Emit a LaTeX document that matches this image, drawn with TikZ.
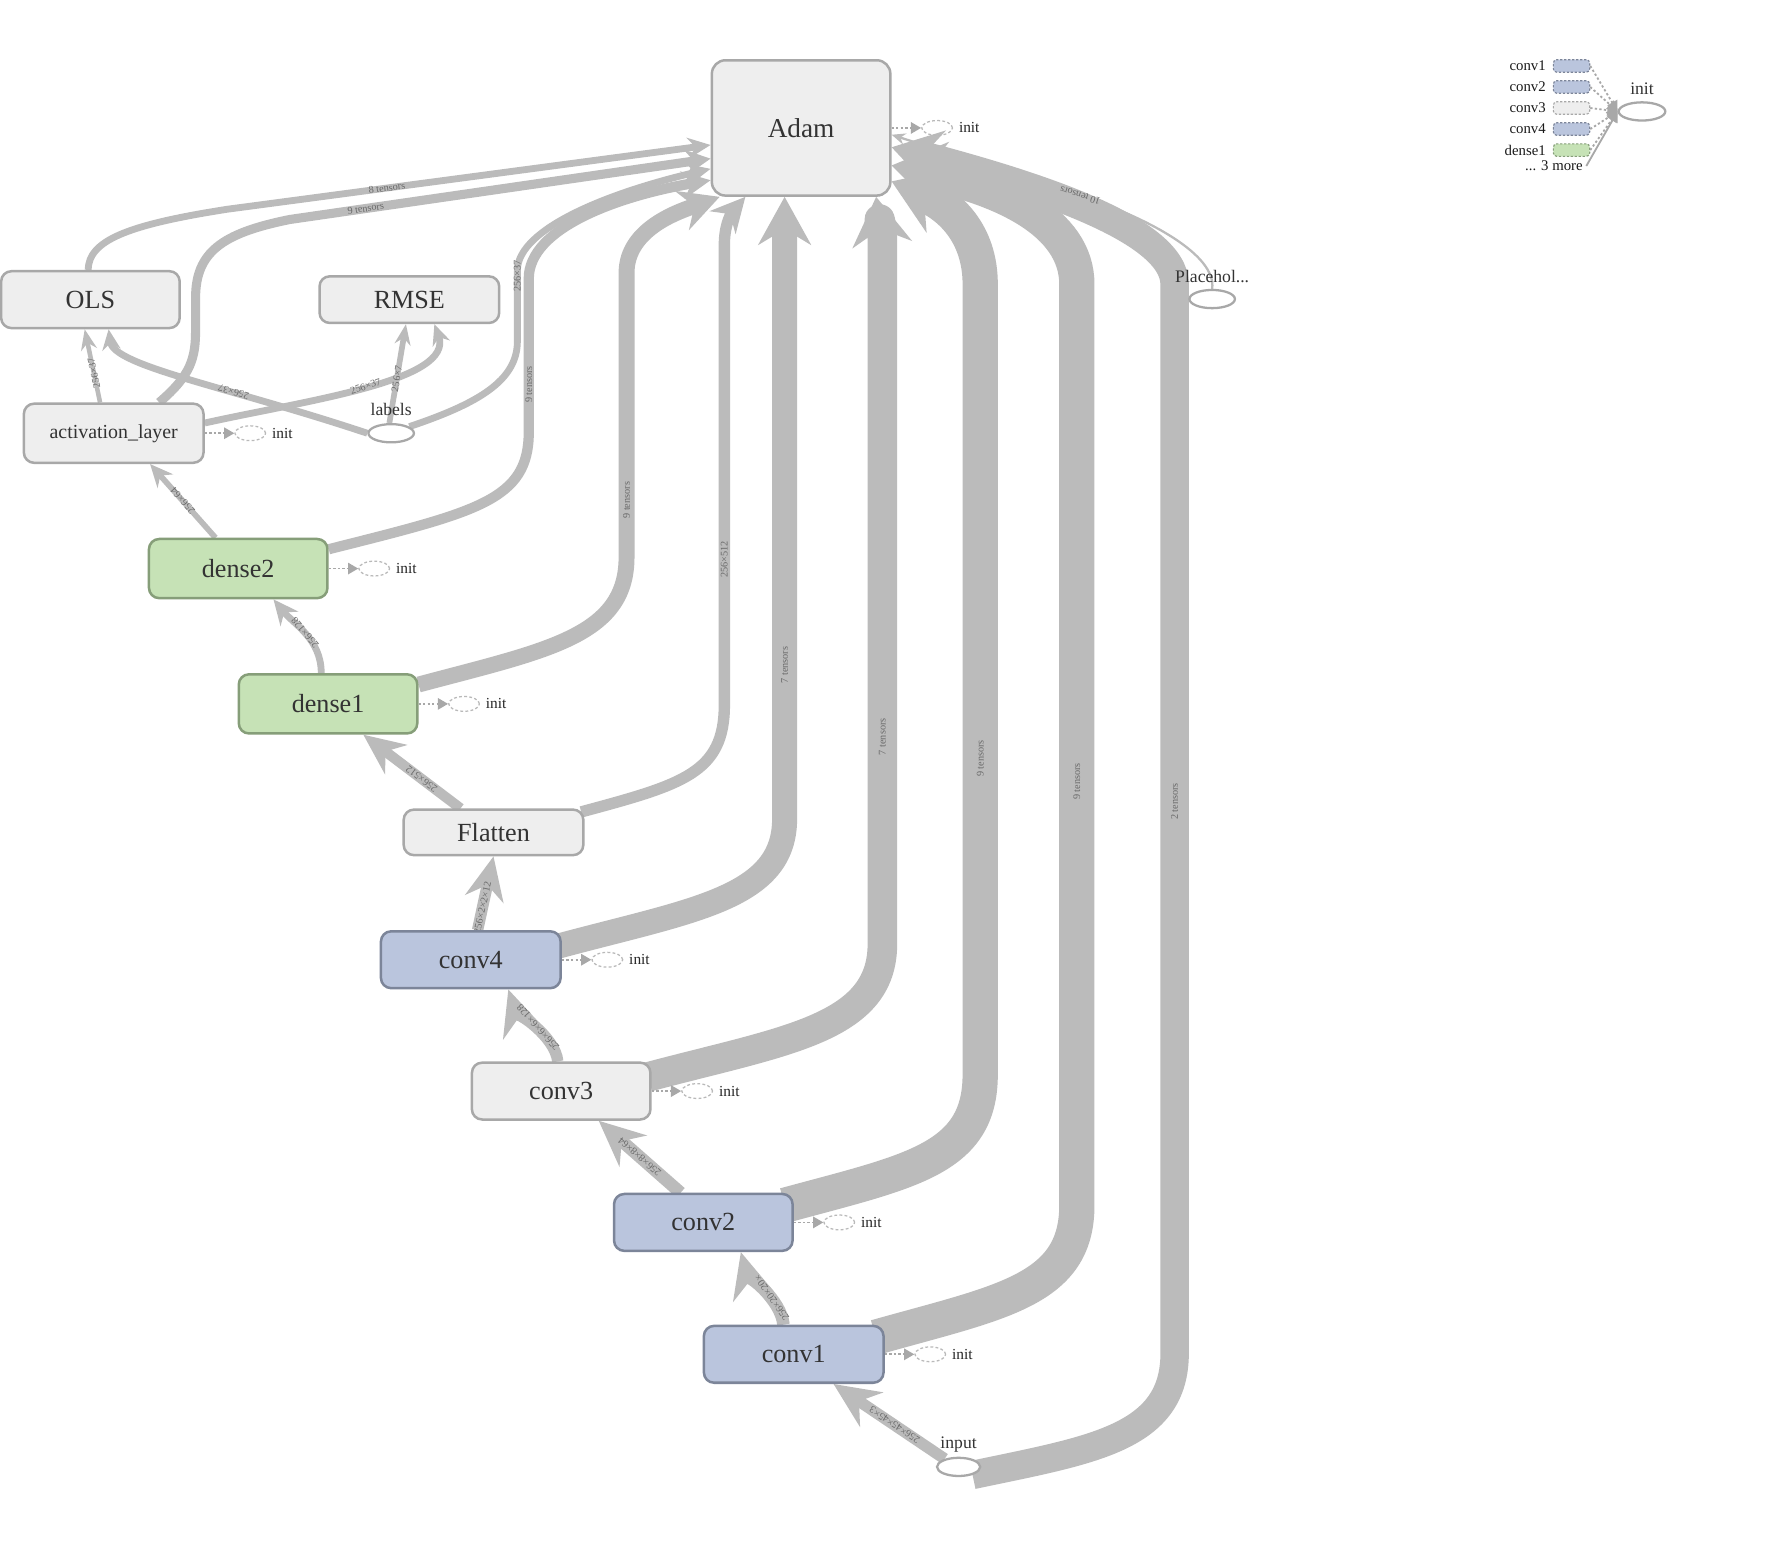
\documentclass[tikz,border=0pt]{standalone}
\usepackage{fontspec}
\setmainfont{Liberation Serif}
\usetikzlibrary{arrows.meta,shapes.geometric}
\pgfdeclarelayer{paper}
\pgfdeclarelayer{edgelayer}
\pgfsetlayers{paper,edgelayer,main}

\definecolor{edgec}{RGB}{187,187,187}
\definecolor{grayfill}{RGB}{238,238,238}
\definecolor{grayline}{RGB}{168,168,168}
\definecolor{bluefill}{RGB}{186,197,221}
\definecolor{blueline}{RGB}{124,133,153}
\definecolor{greenfill}{RGB}{198,226,182}
\definecolor{greenline}{RGB}{134,158,121}
\definecolor{nodetext}{RGB}{51,51,51}
\definecolor{edgetext}{RGB}{105,105,105}
\definecolor{initline}{RGB}{185,185,185}

\begin{document}
\begin{tikzpicture}[x=1pt,y=-1pt,
  op/.style={rounded corners=9pt, line width=2.2pt, minimum width=157pt,
    minimum height=50pt, inner sep=0pt, text=nodetext,
    font=\fontsize{23}{27}\selectfont},
  grayop/.style={op, fill=grayfill, draw=grayline},
  blueop/.style={op, fill=bluefill, draw=blueline},
  greenop/.style={op, fill=greenfill, draw=greenline},
  leaf/.style={ellipse, draw=grayline, line width=2pt, fill=white,
    minimum width=40pt, minimum height=16pt, inner sep=0pt},
  leaftext/.style={text=nodetext, font=\fontsize{15.5}{18}\selectfont, inner sep=0pt},
  initell/.style={ellipse, draw=initline, line width=1.1pt, dash pattern=on 2.5pt off 2pt,
    minimum width=27pt, minimum height=13pt, inner sep=0pt},
  inittext/.style={text=black!85, font=\fontsize{13.5}{16}\selectfont, inner sep=0pt},
  initlink/.style={draw=grayline, line width=1.6pt, dash pattern=on 2pt off 2pt,
    -{Triangle[length=9pt,width=10pt]}},
  flow/.style n args={3}{draw=edgec, line width=#1pt, line join=round,
    -{Stealth[length=#2pt, width=#3pt]}},
  elab/.style={sloped, allow upside down, inner sep=0pt, text=edgetext,
    font=\fontsize{9}{10}\selectfont},
  legbox/.style={rounded corners=3pt, dash pattern=on 2pt off 1.5pt, line width=1pt,
    minimum width=32pt, minimum height=11pt, inner sep=0pt},
  legtext/.style={text=black!90, font=\fontsize{13}{15}\selectfont, inner sep=0pt},
  legline/.style={draw=grayline, line width=1.6pt, dash pattern=on 2pt off 2pt,
    -{Triangle[length=9pt,width=10pt]}}
]
\begin{pgfonlayer}{paper}
\fill[white] (0,0) rectangle (1568,1356);
\end{pgfonlayer}
\useasboundingbox (0,0) rectangle (1568,1356);

% operation nodes
\node[grayop, minimum height=119pt, rounded corners=12pt,
  font=\fontsize{24}{28}\selectfont] (Adam) at (704.5,112.5) {Adam};
\node[grayop] (OLS) at (79.5,263.5) {OLS};
\node[grayop, minimum width=158pt, minimum height=41pt] (RMSE) at (360,263.5) {RMSE};
\node[grayop, minimum width=158pt, minimum height=52pt,
  font=\fontsize{17.5}{20}\selectfont] (act) at (100,381) {activation\_layer};
\node[greenop, minimum height=52pt] (dense2) at (209.5,500) {dense2};
\node[greenop, minimum height=52pt] (dense1) at (288.5,619) {dense1};
\node[grayop, minimum width=158pt, minimum height=40pt] (Flatten) at (434,732) {Flatten};
\node[blueop, minimum width=158pt] (conv4) at (414,844) {conv4};
\node[grayop] (conv3) at (493.5,959.5) {conv3};
\node[blueop] (conv2) at (618.5,1075) {conv2};
\node[blueop, minimum width=158pt] (conv1) at (698,1191) {conv1};

% placeholder inputs
\node[leaf] (labels) at (344,381) {};
\node[leaftext, anchor=base] (labelsT) at ([yshift=7pt]labels.north) {labels};
\node[leaf] (ph) at (1066,263) {};
\node[leaftext, anchor=base] (phT) at ([yshift=6pt]ph.north) {Placehol...};
\node[leaf, minimum width=38pt] (input) at (843,1290) {};
\node[leaftext, anchor=base] (inputT) at ([yshift=7pt]input.north) {input};

% init dependencies of each layer
\foreach \n in {Adam,act,dense2,dense1,conv4,conv3,conv2,conv1}{
  \node[initell] (\n-i) at ([xshift=40pt]\n.east) {};
  \node[inittext, anchor=west] (\n-it) at ([xshift=5pt]\n-i.east) {init};
  \draw[initlink] (\n.east) -- (\n-i.west);
}

% grouped init node with its inputs
\node[leaf, minimum width=41pt] (initAll) at (1444,98) {};
\node[leaftext, anchor=base] (initAllT) at ([yshift=6pt]initAll.north) {init};
\foreach \t/\f/\d/\y [count=\k] in {conv1/bluefill/blueline/58, conv2/bluefill/blueline/76.5,
    conv3/grayfill/grayline/95, conv4/bluefill/blueline/113.5, dense1/greenfill/greenline/132}{
  \node[legbox, fill=\f, draw=\d] (leg\k) at (1382,\y) {};
  \node[legtext, anchor=east] (legT\k) at ([xshift=-6pt]leg\k.west) {\t};
  \draw[legline] (leg\k.east) -- (initAll.west);
}
\node[legtext, anchor=east] (legMore) at (1392,146) {... 3 more};
\draw[draw=grayline, line width=1.6pt, -{Triangle[length=9pt,width=10pt]}]
  ([xshift=3pt]legMore.east) -- (initAll.west);

\begin{pgfonlayer}{edgelayer}
% forward data path
\draw[flow={10}{40}{36}] (input.150) -- ([xshift=35pt]conv1.south)
  node[elab,pos=0.45]{256×45×45×3};
\draw[flow={11}{40}{36}] ([xshift=-9pt]conv1.north) .. controls +(-2,-22) and +(5,18) ..
  ([xshift=33pt]conv2.south) node[elab,pos=0.35]{256×20×20×};
\draw[flow={11}{40}{36}] ([xshift=-20pt]conv2.north) -- ([xshift=33pt]conv3.south)
  node[elab,pos=0.5]{256×8×8×64};
\draw[flow={10}{40}{36}] ([xshift=-3pt]conv3.north) .. controls +(-2,-22) and +(6,18) ..
  ([xshift=33pt]conv4.south) node[elab,pos=0.45]{256×6×6×128};
\draw[flow={10}{38}{34}] ([xshift=6pt]conv4.north) -- (Flatten.south)
  node[elab,pos=0.3]{256×2×2×12};
\draw[flow={9}{36}{32}] ([xshift=-29pt]Flatten.north) -- ([xshift=31pt]dense1.south)
  node[elab,pos=0.4]{256×512};
\draw[flow={6}{22}{20}] ([xshift=-6pt]dense1.north) .. controls +(0,-30) and +(18,22) ..
  ([xshift=31pt]dense2.south) node[elab,pos=0.5]{256×128};
\draw[flow={5}{20}{18}] ([xshift=-20pt]dense2.north) -- ([xshift=32pt]act.south)
  node[elab,pos=0.5]{256×64};
\draw[flow={4}{18}{14}] ([xshift=-12pt]act.north) -- ([xshift=-5pt]OLS.south)
  node[elab,pos=0.4]{256×37};
\draw[flow={6}{18}{16}] ([yshift=9pt]act.east) .. controls (270,352) and (400,335) ..
  ([xshift=22pt]RMSE.south) node[elab,pos=0.5]{256×37};
\draw[flow={6}{18}{16}] (labels.west) .. controls (200,340) and (100,322) ..
  ([xshift=16pt]OLS.south) node[elab,pos=0.35]{256×37};
\draw[flow={5}{18}{14}] (labels.100) -- ([xshift=-3pt]RMSE.south)
  node[elab,pos=0.45]{256×7};

% gradients and variables gathered by the optimizer
\draw[flow={6}{20}{18}] ([xshift=-2pt]OLS.north) .. controls (78,212) and (110,198) ..
  (200,184) -- ([yshift=-15pt]Adam.west) node[elab,pos=0.33]{8 tensors};
\draw[flow={8}{22}{22}] ([xshift=40pt]act.north) .. controls (168,330) and (172,315) ..
  (172,290) -- (172,262) .. controls (172,222) and (195,205) .. (255,193)
  -- ([yshift=-27pt]Adam.west) node[elab,pos=0.18]{9 tensors};
\draw[flow={6}{20}{18}] (labels.20) .. controls (420,355) and (455,335) .. (455,300)
  -- (455,238) node[elab,pos=0.92]{256×37}
  .. controls (455,200) and (540,168) .. ([yshift=-36pt]Adam.west);
\draw[flow={9}{25}{24}] ([yshift=17pt]dense2.east) .. controls (420,450) and (465,440) ..
  (465,380) -- (465,245) node[elab,pos=0.31]{9 tensors}
  .. controls (465,200) and (545,172) .. ([yshift=-46pt]Adam.west);
\draw[flow={14}{35}{36}] ([yshift=17pt]dense1.east) .. controls (480,572) and (551,560) ..
  (551,490) -- (551,240) node[elab,pos=0.2]{9 tensors}
  .. controls (551,200) and (600,185) .. ([xshift=8pt]Adam.south west);
\draw[flow={10}{30}{30}] ([xshift=-3pt,yshift=18pt]Flatten.east) .. controls (600,690) and (637,680) ..
  (637,620) -- (637,215) node[elab,pos=0.316]{256×512}
  .. controls (637,195) and (645,185) .. ([xshift=-49pt]Adam.south);
\draw[flow={22}{42}{46}] ([xshift=-3pt,yshift=12pt]conv4.east) .. controls (610,800) and (690,790) ..
  (690,720) -- ([xshift=-14.5pt]Adam.south) node[elab,pos=0.247]{7 tensors};
\draw[flow={26}{42}{52}] ([xshift=-3pt,yshift=12.5pt]conv3.east) .. controls (690,915) and (776,905) ..
  (776,830) -- (776,215) node[elab,pos=0.296]{7 tensors}
  .. controls (776,195) and (772,185) .. ([xshift=66pt]Adam.south);
\draw[flow={31}{45}{60}] ([xshift=-8pt,yshift=15pt]conv2.east) .. controls (800,1030) and (862,1020) ..
  (862,945) -- (862,250) node[elab,pos=0.40]{9 tensors}
  .. controls (862,205) and (835,180) .. ([yshift=-47pt]Adam.east);
\draw[flow={31}{45}{60}] ([xshift=-8pt,yshift=15pt]conv1.east) .. controls (880,1145) and (947,1135) ..
  (947,1060) -- (947,250) node[elab,pos=0.46]{9 tensors}
  .. controls (947,195) and (880,165) .. ([yshift=-33pt]Adam.east);
\draw[flow={25}{42}{52}] (input.-30) .. controls (960,1275) and (1033,1265) ..
  (1033,1190) -- (1033,250) node[elab,pos=0.516]{2 tensors}
  .. controls (1033,200) and (900,160) .. ([yshift=-17pt]Adam.east);
\draw[flow={2}{12}{10}] (ph.north) .. controls +(4,-30) and (1010,192) .. (950,172)
  -- ([yshift=-6pt]Adam.east) node[elab,pos=0.0]{10 tensors};
\end{pgfonlayer}
\end{tikzpicture}
\end{document}
